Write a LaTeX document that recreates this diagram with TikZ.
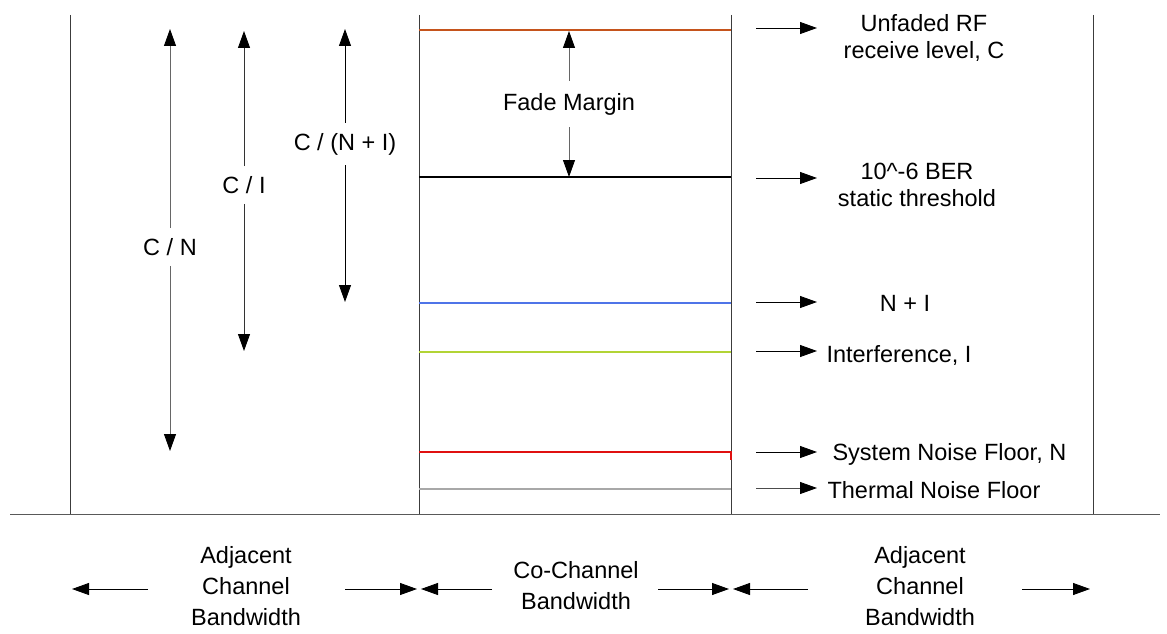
\documentclass[tikz,border=0pt]{standalone}
\usepackage{fontspec}
\setmainfont{Liberation Sans}
\usetikzlibrary{positioning, calc, arrows.meta}

\definecolor{unfadedc}{HTML}{C5541C}
\definecolor{nic}{HTML}{4F74E8}
\definecolor{intfc}{HTML}{B2D435}
\definecolor{sysc}{HTML}{E01010}
\definecolor{thermc}{HTML}{A8A8A8}
\definecolor{framec}{HTML}{3C3C3C}

\begin{document}
\begin{tikzpicture}[x=1pt, y=-1pt, >={Triangle[length=17pt,width=12pt,color=black]},
    every node/.style={font=\fontsize{23.5}{27.5}\selectfont, align=center},
    gap/.style={inner sep=10pt},
    level/.style={line width=1.2pt},
    pointer/.style={->, line width=0.9pt},
    frame/.style={line width=1pt, framec}]
  \useasboundingbox (0,0) rectangle (1167,634);

  % channel borders and ground line
  \draw[frame] (70,15) -- (70,514);
  \draw[frame] (419,15) -- (419,514);
  \draw[frame] (731,15) -- (731,514);
  \draw[frame] (1093,15) -- (1093,514);
  \draw[frame, black!65] (10,514) -- (1160,514);

  % levels inside the co-channel
  \draw[level, unfadedc] (419,30) -- (731,30);
  \draw[level, black] (419,177) -- (731,177);
  \draw[level, nic] (419,303) -- (731,303);
  \draw[level, intfc] (419,352) -- (731,352);
  \draw[level, sysc] (419,452) -- (731,452) -- (731,460);
  \draw[level, thermc] (419,489) -- (731,489);

  % labels on the right
  \node (unfaded) at (924,38) {Unfaded RF\\receive level, C};
  \node (ber) at (917,185) {10\^{}-6 BER\\static threshold};
  \node (ni) at (905,303) {N + I};
  \coordinate (s1) at (756,28);  \coordinate (t1) at (817,28);
  \coordinate (s2) at (756,178); \coordinate (t2) at (817,178);
  \coordinate (s3) at (756,302); \coordinate (t3) at (817,302);
  \coordinate (s4) at (756,351); \coordinate (t4) at (817,351);
  \coordinate (s5) at (756,452); \coordinate (t5) at (817,452);
  \coordinate (s6) at (756,488); \coordinate (t6) at (817,488);
  \node[right=6pt of t4, yshift=-4pt] (intf) {Interference, I};
  \node[right=12pt of t5, yshift=-2pt] (sysnoise) {System Noise Floor, N};
  \node[right=7pt of t6, yshift=-2pt] (thermal) {Thermal Noise Floor};
  \draw[pointer] (s1) -- (t1);
  \draw[pointer] (s2) -- (t2);
  \draw[pointer] (s3) -- (t3);
  \draw[pointer] (s4) -- (t4);
  \draw[pointer] (s5) -- (t5);
  \draw[pointer, black!70] (s6) -- (t6);

  % ratios on the left
  \node[gap] (cn) at (170,247) {C / N};
  \node[gap] (ci) at (244,185) {C / I};
  \node[gap] (cni) at (345,144) {C / (N + I)};
  \node[gap, inner sep=12pt] (fade) at (569,104) {Fade Margin};
  \coordinate (cnT) at (170,29);  \coordinate (cnB) at (170,451);
  \coordinate (ciT) at (244,31);  \coordinate (ciB) at (244,351);
  \coordinate (cniT) at (345,29); \coordinate (cniB) at (345,302);
  \coordinate (fadeT) at (569,31); \coordinate (fadeB) at (569,177);
  \draw[pointer, black!60] (cn) -- (cnT);
  \draw[pointer, black!60] (cn) -- (cnB);
  \draw[pointer, black!80] (ci) -- (ciT);
  \draw[pointer, black!80] (ci) -- (ciB);
  \draw[pointer] (cni) -- (cniT);
  \draw[pointer] (cni) -- (cniB);
  \draw[pointer, black!60] (fade) -- (fadeT);
  \draw[pointer, black!60] (fade) -- (fadeB);

  % bandwidths below
  \node[font=\fontsize{23.5}{31}\selectfont] (adjL) at (246,586) {Adjacent\\Channel\\Bandwidth};
  \node[font=\fontsize{23.5}{31}\selectfont] (cochan) at (576,586) {Co-Channel\\Bandwidth};
  \node[font=\fontsize{23.5}{31}\selectfont] (adjR) at (920,586) {Adjacent\\Channel\\Bandwidth};
  \coordinate (b1) at (148,589);  \coordinate (b1t) at (72,589);
  \coordinate (b2) at (345,589);  \coordinate (b2t) at (417,589);
  \coordinate (b3) at (492,589);  \coordinate (b3t) at (421,589);
  \coordinate (b4) at (658,589);  \coordinate (b4t) at (729,589);
  \coordinate (b5) at (808,589);  \coordinate (b5t) at (733,589);
  \coordinate (b6) at (1022,589); \coordinate (b6t) at (1090,589);
  \draw[pointer] (b1) -- (b1t);
  \draw[pointer] (b2) -- (b2t);
  \draw[pointer] (b3) -- (b3t);
  \draw[pointer] (b4) -- (b4t);
  \draw[pointer] (b5) -- (b5t);
  \draw[pointer] (b6) -- (b6t);
\end{tikzpicture}
\end{document}
